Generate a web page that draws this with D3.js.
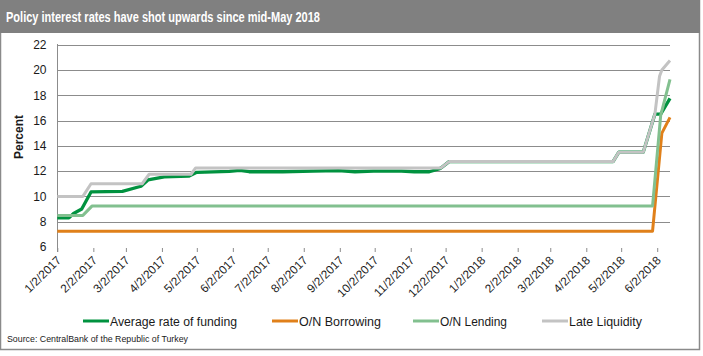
<!DOCTYPE html>
<html><head><meta charset="utf-8">
<script src="https://cdn.jsdelivr.net/npm/d3@7"></script>
<style>
html,body{margin:0;padding:0;background:#fff;}
text{font-family:"Liberation Sans",Arial,sans-serif;}
</style></head>
<body><svg id="c" width="703" height="356"></svg>
<script>
const titleText = "Policy interest rates have shot upwards since mid-May 2018";
const sourceText = "Source: CentralBank of the Republic of Turkey";
const yTicks = [6, 8, 10, 12, 14, 16, 18, 20, 22];
const xTickLabels = ["1/2/2017","2/2/2017","3/2/2017","4/2/2017","5/2/2017","6/2/2017","7/2/2017","8/2/2017","9/2/2017","10/2/2017","11/2/2017","12/2/2017","1/2/2018","2/2/2018","3/2/2018","4/2/2018","5/2/2018","6/2/2018"];
const seriesNames = ["Average rate of funding","O/N Borrowing","O/N Lending","Late Liquidity"];
const seriesColors = ["#00923f","#e0801a","#82c08f","#c3c3c3"];

const avgDates = ["2017-01-02","2017-01-12","2017-01-16","2017-01-23","2017-01-31","2017-02-27","2017-03-15","2017-03-21","2017-04-04","2017-04-25","2017-05-02","2017-05-30","2017-06-08","2017-06-16","2017-07-15","2017-08-10","2017-09-01","2017-09-15","2017-10-01","2017-10-25","2017-11-05","2017-11-18","2017-11-27","2017-11-28","2017-12-05","2018-04-25","2018-04-30","2018-05-21","2018-05-31","2018-06-05","2018-06-13"];
const avgValues = [8.3,8.3,8.65,9.0,10.35,10.4,10.8,11.3,11.55,11.6,11.9,11.98,12.05,11.95,11.95,12.0,12.03,11.95,12.0,12.0,11.95,11.95,12.2,12.25,12.75,12.75,13.5,13.5,16.5,16.5,17.75];

const borrowDates = ["2017-01-02","2018-05-29","2018-06-06","2018-06-13"];
const borrowValues = [7.25,7.25,15.0,16.25];

const lendDates = ["2017-01-02","2017-01-24","2017-02-01","2018-05-29","2018-06-05","2018-06-13"];
const lendValues = [8.5,8.5,9.25,9.25,16.4,19.25];

const lateDates = ["2017-01-02","2017-01-24","2017-01-31","2017-03-16","2017-03-22","2017-04-27","2017-05-01","2017-11-28","2017-12-05","2018-04-25","2018-04-30","2018-05-21","2018-05-31","2018-06-04","2018-06-06","2018-06-13"];
const lateValues = [10,10,11,11,11.75,11.75,12.25,12.25,12.75,12.75,13.5,13.5,16.5,19.5,20.0,20.75];

const parseISO = d3.timeParse("%Y-%m-%d");
const parseTick = d3.timeParse("%m/%d/%Y");
const svg = d3.select("#c");

// frame & title
svg.append("rect").attr("x",0.5).attr("y",0.5).attr("width",699).attr("height",349)
  .attr("fill","#fff").attr("stroke","#8a8a8a").attr("stroke-width",1.5);
svg.append("rect").attr("x",0).attr("y",0).attr("width",700).attr("height",33).attr("fill","#808080");
svg.append("text").attr("x",6).attr("y",22).attr("fill","#fff").attr("font-weight","bold")
  .attr("font-size",14.5).attr("textLength",314).attr("lengthAdjust","spacingAndGlyphs").text(titleText);

const x = d3.scaleTime().domain([parseISO("2017-01-02"), parseISO("2018-06-13")]).range([57.3, 670]);
const y = d3.scaleLinear().domain([6, 22]).range([247, 44.6]);

// gridlines
svg.append("g").selectAll("line").data(yTicks.filter(v => v > 6)).join("line")
  .attr("x1",57.3).attr("x2",670).attr("y1",d=>Math.round(y(d))+0.5).attr("y2",d=>Math.round(y(d))+0.5)
  .attr("stroke","#8c8c8c").attr("stroke-width",1);

// y axis
const yAxis = svg.append("g").attr("transform","translate(57.5,0)")
  .call(d3.axisLeft(y).tickValues(yTicks).tickSize(0).tickPadding(11).tickFormat(d3.format("d")));
yAxis.select(".domain").remove();
yAxis.selectAll("text").attr("font-size",12).attr("fill","#1a1a1a").attr("font-family","Liberation Sans, Arial, sans-serif");
svg.append("line").attr("x1",57.5).attr("x2",57.5).attr("y1",44).attr("y2",252).attr("stroke","#8c8c8c");

// x axis ticks
const tickDates = xTickLabels.map(parseTick);
const xAxis = svg.append("g").attr("transform","translate(0,248)")
  .call(d3.axisBottom(x).tickValues(tickDates).tickSize(4).tickFormat((d,i)=>xTickLabels[i]));
xAxis.select(".domain").remove();
xAxis.selectAll(".tick line").attr("stroke","#8c8c8c");
xAxis.selectAll("text").attr("font-size",11.8).attr("fill","#1a1a1a")
  .attr("font-family","Liberation Sans, Arial, sans-serif")
  .attr("text-anchor","end").attr("dy",null).attr("y",0)
  .attr("transform","translate(4,13) rotate(-45)");

// y label
svg.append("text").attr("transform","translate(23,137) rotate(-90)").attr("text-anchor","middle")
  .attr("font-weight","bold").attr("font-size",12).attr("fill","#1a1a1a").text("Percent");

// lines
const allSeries = [
  {dates: avgDates, values: avgValues, w: 3.3},
  {dates: borrowDates, values: borrowValues, w: 3},
  {dates: lendDates, values: lendValues, w: 3},
  {dates: lateDates, values: lateValues, w: 3}
];
const line = d3.line().x(d=>x(d[0])).y(d=>y(d[1]));
allSeries.forEach((s,i)=>{
  const pts = s.dates.map((d,j)=>[parseISO(d), s.values[j]]);
  svg.append("path").datum(pts).attr("d",line).attr("fill","none")
    .attr("stroke",seriesColors[i]).attr("stroke-width",s.w).attr("stroke-linejoin","round");
});

// legend
const legendX = [83, 272, 413, 542];
const legendW = [127, 82, 67, 73];
seriesNames.forEach((n,i)=>{
  const g = svg.append("g").attr("transform",`translate(${legendX[i]},321)`);
  g.append("line").attr("x1",0).attr("x2",26).attr("y1",0).attr("y2",0)
    .attr("stroke",seriesColors[i]).attr("stroke-width",3);
  g.append("text").attr("x",27).attr("y",4.5).attr("font-size",12.5).attr("fill","#1a1a1a")
    .attr("textLength",legendW[i]).attr("lengthAdjust","spacingAndGlyphs").text(n);
});

svg.append("text").attr("x",7).attr("y",342).attr("font-size",9.5).attr("fill","#1a1a1a")
  .attr("textLength",181).attr("lengthAdjust","spacingAndGlyphs").text(sourceText);
</script>
</body></html>
